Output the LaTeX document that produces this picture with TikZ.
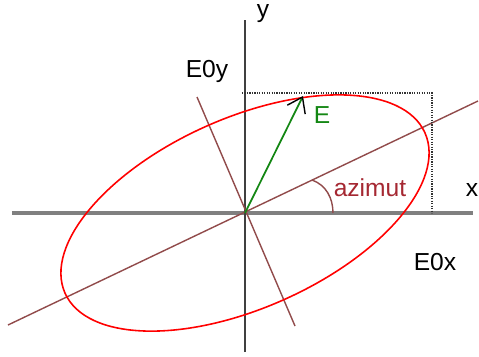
\documentclass[tikz,border=0pt]{standalone}
\usepackage{fontspec}
\setmainfont{Liberation Sans}
\usepackage{xcolor}
\usepackage{tikz}
\usetikzlibrary{arrows.meta,positioning}

\definecolor{axisbrown}{RGB}{145,75,75}
\definecolor{azired}{RGB}{165,40,50}
\definecolor{vecgreen}{RGB}{20,135,20}

\begin{document}
\begin{tikzpicture}[
      every node/.style={font=\fontsize{14}{16}\selectfont, inner sep=1pt},
      xaxis/.style={draw=black!50, line width=2pt},
      yaxis/.style={draw=black!75, line width=1.3pt},
      mainaxis/.style={draw=axisbrown, line width=0.8pt},
      helper/.style={draw=black!80, dash pattern=on 0.7pt off 0.7pt, line width=0.9pt},
      vec/.style={draw=vecgreen, line width=1pt,
        -{Straight Barb[length=2.8mm, width=4mm, black, line width=0.8pt]}}
    ]
    \useasboundingbox (-4.9,-2.86) rectangle (4.68,4.26);

    % axes
    \coordinate (O) at (0,0);
    \coordinate (xl) at (-4.66,0);
    \coordinate (xr) at (4.56,0);
    \coordinate (yb) at (0,-2.78);
    \coordinate (yt) at (0,3.86);
    \draw[xaxis] (xl) -- (xr);
    \draw[yaxis] (yb) -- (yt);

    % ellipse axes
    \coordinate (ml) at (-4.74,-2.24);
    \coordinate (mr) at (4.66,2.24);
    \coordinate (nt) at (-0.96,2.32);
    \coordinate (nb) at (1.0,-2.26);
    \draw[mainaxis] (ml) -- (mr);
    \draw[mainaxis] (nt) -- (nb);

    % azimut arc
    \coordinate (a1) at (1.34,0.66);
    \coordinate (a2) at (1.76,0);
    \draw[mainaxis] (a1) .. controls (1.62,0.56) and (1.76,0.3) .. (a2);

    % box
    \coordinate (bl) at (-0.06,2.4);
    \coordinate (bc) at (3.74,2.4);
    \coordinate (bb) at (3.74,0);
    \draw[helper] (bl) -- (bc) -- (bb);

    % ellipse
    \draw[red, line width=0.9pt, rotate=24] (O) ellipse (3.94 and 1.9);

    % field vector
    \coordinate (Etip) at (1.16,2.34);
    \draw[vec] (O) -- (Etip);

    \node (ylab) at (0.36,3.98) {y};
    \node (xlab) at (4.54,0.46) {x};
    \node (E0y) at (-0.76,2.84) {E0y};
    \node (E0x) at (3.8,-0.98) {E0x};
    \node[text=vecgreen] (Elab) at (1.54,1.96) {E};
    \node[text=azired] (azi) at (2.5,0.5) {azimut};
  \end{tikzpicture}
\end{document}
